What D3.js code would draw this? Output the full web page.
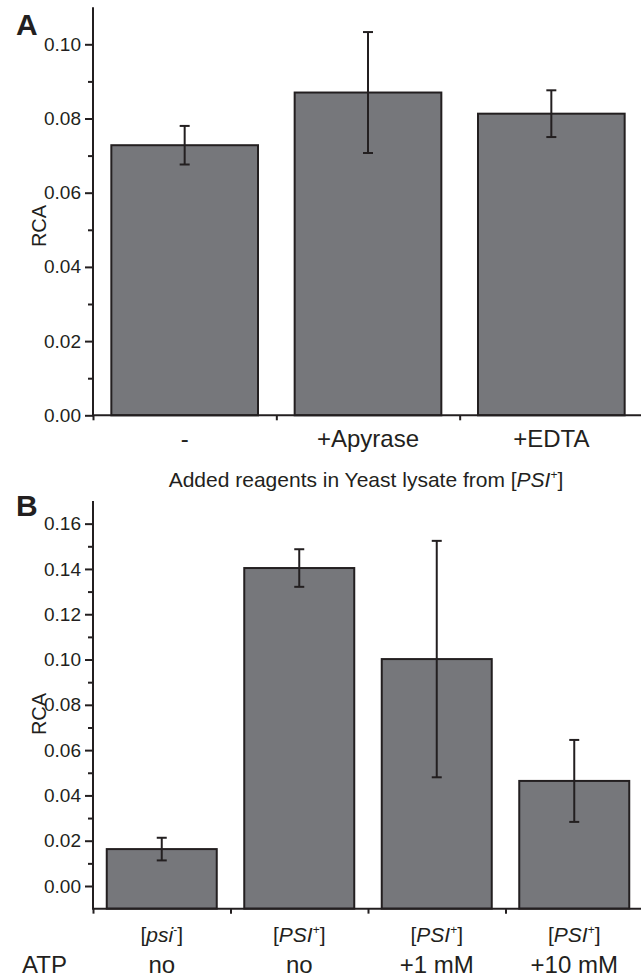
<!DOCTYPE html>
<html><head><meta charset="utf-8">
<script src="https://cdn.jsdelivr.net/npm/d3@7/dist/d3.min.js"></script>
<style>
body{margin:0;background:#fff;}
svg{display:block;font-family:"Liberation Sans",Arial,sans-serif;}
</style></head>
<body><svg id="c" width="641" height="979"></svg>
<script>
// Panel A data
const catsA = ["-", "+Apyrase", "+EDTA"];
const valsA = [0.0728, 0.0870, 0.0813];
const errA = [0.0052, 0.0163, 0.0063];
const ticksA = [0, 0.02, 0.04, 0.06, 0.08, 0.10];
const minorA = [0.01, 0.03, 0.05, 0.07, 0.09];
const titleA = "Added reagents in Yeast lysate from ";

// Panel B data
const strainB = ["psi", "PSI", "PSI", "PSI"];
const supB = ["-", "+", "+", "+"];
const atpB = ["no", "no", "+1 mM", "+10 mM"];
const valsB = [0.0163, 0.1404, 0.1002, 0.0464];
const errB = [0.0050, 0.0083, 0.0522, 0.0181];
const ticksB = [0, 0.02, 0.04, 0.06, 0.08, 0.10, 0.12, 0.14, 0.16];
const minorB = [0.01, 0.03, 0.05, 0.07, 0.09, 0.11, 0.13, 0.15];

const ink = "#231f20", fill = "#76777b";
const svg = d3.select("#c");
const x0 = 93, x1 = 643;

function panel(opts){
  const g = svg.append("g");
  const x = d3.scaleBand().domain(d3.range(opts.vals.length)).range([x0, x1]).paddingInner(0.2).paddingOuter(0.1);
  const y = d3.scaleLinear().domain(opts.ydom).range(opts.yr);
  const base = y(opts.ydom[0]);
  g.selectAll("rect.bar").data(opts.vals).join("rect")
    .attr("x", (d,i)=>x(i)).attr("width", x.bandwidth())
    .attr("y", d=>y(d)).attr("height", d=>base - y(d))
    .attr("fill", fill).attr("stroke", ink).attr("stroke-width", 2);
  const eb = g.selectAll("g.err").data(opts.vals).join("g");
  eb.append("line").attr("x1",(d,i)=>x(i)+x.bandwidth()/2).attr("x2",(d,i)=>x(i)+x.bandwidth()/2)
    .attr("y1",(d,i)=>y(d+opts.err[i])).attr("y2",(d,i)=>y(d-opts.err[i]))
    .attr("stroke", ink).attr("stroke-width", 2);
  [1,-1].forEach(s=>{
    eb.append("line").attr("x1",(d,i)=>x(i)+x.bandwidth()/2-5).attr("x2",(d,i)=>x(i)+x.bandwidth()/2+5)
      .attr("y1",(d,i)=>y(d+s*opts.err[i])).attr("y2",(d,i)=>y(d+s*opts.err[i]))
      .attr("stroke", ink).attr("stroke-width", 2);
  });
  const ya = g.append("g").attr("transform",`translate(${x0},0)`)
    .call(d3.axisLeft(y).tickValues(opts.ticks).tickFormat(d3.format(".2f")).tickSize(8).tickPadding(4));
  ya.select(".domain").attr("d", `M0,${opts.yr[1]}V${base}`);
  const ym = g.append("g").attr("transform",`translate(${x0},0)`)
    .call(d3.axisLeft(y).tickValues(opts.minor).tickFormat("").tickSize(5));
  ym.select(".domain").remove();
  [ya, ym].forEach(a=>{
    a.selectAll("line").attr("stroke", ink).attr("stroke-width", 2);
    a.selectAll("path").attr("stroke", ink).attr("stroke-width", 2);
  });
  ya.selectAll("text").attr("fill", ink).style("font-size","19px").style("font-family","Liberation Sans, Arial, sans-serif");
  const xb = d3.scaleLinear().domain([0, opts.vals.length]).range([x0, x1]);
  const xa = g.append("g").attr("transform",`translate(0,${base})`)
    .call(d3.axisBottom(xb).tickValues(d3.range(opts.vals.length+1)).tickFormat("").tickSize(5).tickSizeOuter(0));
  xa.selectAll("line").attr("stroke", ink).attr("stroke-width", 2);
  xa.select(".domain").attr("stroke", ink).attr("stroke-width", 2).attr("d", `M${x0-1},0H${x1+10}`);
  svg.append("text").attr("transform",`translate(${opts.ytitleX},${opts.ytitleY}) rotate(-90)`)
    .attr("text-anchor","middle").attr("fill", ink).style("font-size","20px").text("RCA");
  svg.append("text").attr("x", opts.letterX).attr("y", opts.letterY).attr("fill", ink)
    .style("font-size","30px").style("font-weight","bold").text(opts.letter);
  return {x, y, base};
}

// Panel A
const A = panel({vals: valsA, err: errA, ydom:[0, 0.11], yr:[415.3, 7.2], ticks: ticksA, minor: minorA,
  ytitleX: 46, ytitleY: 226, letter: "A", letterX: 16, letterY: 35, });
svg.append("g").selectAll("text").data(catsA).join("text")
  .attr("x",(d,i)=>A.x(i)+A.x.bandwidth()/2).attr("y", 447)
  .attr("text-anchor","middle").attr("fill", ink).style("font-size","24px").text(d=>d);
const tA = svg.append("text").attr("x", (x0+x1)/2 - 2).attr("y", 487).attr("text-anchor","middle")
  .attr("fill", ink).style("font-size","21px");
tA.append("tspan").text(titleA + "[");
tA.append("tspan").style("font-style","italic").text("PSI");
tA.append("tspan").attr("dy", -8).style("font-size","12px").text("+");
tA.append("tspan").attr("dy", 8).text("]");

// Panel B
const B = panel({vals: valsB, err: errB, ydom:[-0.01, 0.17], yr:[908.65, 501], ticks: ticksB, minor: minorB,
  ytitleX: 46, ytitleY: 714, letter: "B", letterX: 16, letterY: 516});
const lb = svg.append("g").selectAll("text").data(strainB).join("text")
  .attr("x",(d,i)=>B.x(i)+B.x.bandwidth()/2).attr("y", 942)
  .attr("text-anchor","middle").attr("fill", ink).style("font-size","21px");
lb.append("tspan").text("[");
lb.append("tspan").style("font-style","italic").text(d=>d);
lb.append("tspan").attr("dy",-8).style("font-size","12px").text((d,i)=>supB[i]);
lb.append("tspan").attr("dy",8).text("]");
svg.append("g").selectAll("text").data(atpB).join("text")
  .attr("x",(d,i)=>B.x(i)+B.x.bandwidth()/2).attr("y", 973)
  .attr("text-anchor","middle").attr("fill", ink).style("font-size","24px").text(d=>d);
svg.append("text").attr("x", 22).attr("y", 973).attr("fill", ink).style("font-size","24px").text("ATP");
</script></body></html>
